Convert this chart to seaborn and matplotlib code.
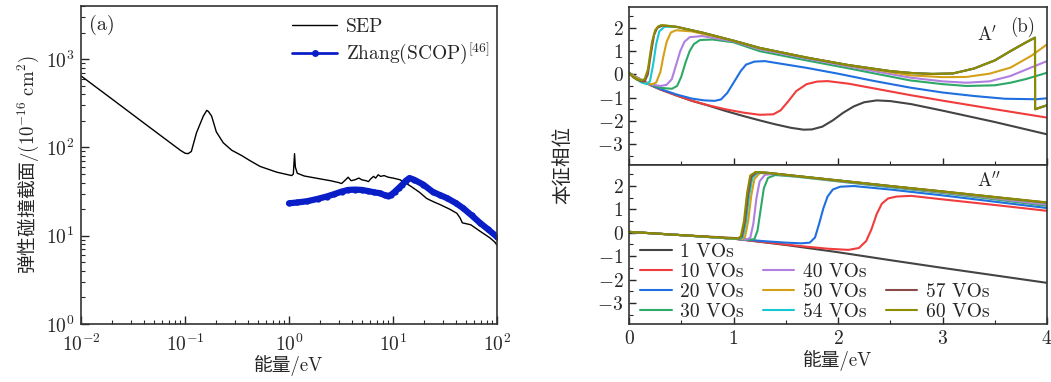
import matplotlib
matplotlib.use("Agg")
import matplotlib.pyplot as plt
import seaborn as sns
from matplotlib.lines import Line2D
from matplotlib.ticker import LogLocator, MultipleLocator, NullFormatter

# ---------------- panel (a): elastic cross section ----------------
sep_e = [0.01, 0.02, 0.04, 0.07, 0.09, 0.1, 0.107, 0.115, 0.129, 0.15, 0.162, 0.168,
         0.18, 0.2, 0.233, 0.281, 0.35, 0.42, 0.526, 0.76, 1.06, 1.1, 1.13, 1.15, 1.2,
         1.4, 2.0, 2.5, 3.0, 3.2, 3.5, 3.7, 3.95, 4.3, 4.7, 5.0, 5.5, 5.8, 6.1, 6.5,
         6.8, 7.2, 7.6, 8.2, 9.0, 10.0, 11.7, 13.0, 15.0, 18.0, 21.0, 22.7, 25.0, 28.4,
         35.0, 41.0, 44.0, 46.4, 56.0, 69.0, 85.0, 95.0, 100.0]
sep_s = [646, 351, 190, 116, 93, 86, 85, 90, 147, 227, 263, 255,
         227, 150, 113, 93, 81, 71, 61, 52.5, 48, 50, 85, 60, 51,
         47.5, 44, 42, 40, 39, 43, 46, 42, 43, 45, 43, 42, 41, 44, 47,
         45, 49, 47, 48, 46, 45, 43, 40, 36, 31, 26.5, 25.3, 24, 22.5,
         20, 18, 16, 14, 13.3, 11.2, 9.5, 8.5, 7.8]

zhang_e = [1.0, 1.2, 1.5, 1.9, 2.3, 2.7, 3.2, 3.7, 4.3, 5.0, 5.8, 6.6, 7.5, 8.3, 8.9,
           9.5, 10.4, 11.3, 12.3, 13.3, 14.4, 16.0, 19.5, 24.0, 28.0, 33.0, 40.0, 47.0,
           57.0, 69.0, 82.0, 100.0]
zhang_s = [23.3, 23.8, 24.6, 26.2, 27.8, 29.5, 31.6, 33.0, 33.3, 33.0, 32.0, 31.0, 30.3,
           28.8, 28.2, 28.8, 31.5, 34.5, 38.0, 42.0, 45.0, 43.0, 38.0, 31.5, 29.0, 26.7,
           23.5, 20.6, 17.0, 13.9, 11.8, 9.7]

# ---------------- panel (b): eigenphase, A' symmetry ----------------
a1_e_1 = [0, 0.05, 0.1, 0.2, 0.3, 0.45, 0.6, 0.75, 0.92, 1.1, 1.25, 1.4, 1.55, 1.67,
          1.75, 1.85, 1.95, 2.05, 2.15, 2.25, 2.37, 2.5, 2.7, 3.0, 3.5, 4.0]
a1_p_1 = [0.07, -0.08, -0.2, -0.45, -0.65, -0.9, -1.14, -1.33, -1.57, -1.8, -1.98, -2.15,
          -2.3, -2.38, -2.37, -2.25, -1.98, -1.65, -1.38, -1.2, -1.12, -1.15, -1.28, -1.56,
          -2.05, -2.58]
a1_e_10 = [0, 0.05, 0.1, 0.2, 0.3, 0.45, 0.6, 0.75, 0.92, 1.1, 1.25, 1.38, 1.45, 1.52,
           1.6, 1.7, 1.8, 1.9, 2.1, 2.4, 2.7, 3.0, 3.5, 4.0]
a1_p_10 = [0.07, -0.08, -0.2, -0.45, -0.65, -0.9, -1.13, -1.32, -1.5, -1.65, -1.74, -1.72,
           -1.55, -1.18, -0.72, -0.42, -0.31, -0.29, -0.4, -0.65, -0.9, -1.13, -1.5, -1.86]
a1_e_20 = [0, 0.05, 0.1, 0.2, 0.3, 0.45, 0.6, 0.72, 0.82, 0.88, 0.94, 1.01, 1.07, 1.12,
           1.2, 1.3, 1.7, 2.0, 2.34, 2.69, 3.0, 3.3, 3.6, 3.9, 4.0]
a1_p_20 = [0.07, -0.08, -0.2, -0.44, -0.63, -0.86, -1.04, -1.12, -1.14, -1.08, -0.8, -0.29,
           0.15, 0.42, 0.55, 0.57, 0.28, 0.03, -0.28, -0.57, -0.78, -0.93, -1.05, -1.07, -1.03]
a1_e_30 = [0, 0.05, 0.1, 0.2, 0.3, 0.41, 0.46, 0.5, 0.54, 0.58, 0.62, 0.68, 0.8, 1.0,
           1.25, 1.7, 2.1, 2.69, 3.0, 3.23, 3.5, 3.65, 3.8, 4.0]
a1_p_30 = [0.07, -0.08, -0.2, -0.43, -0.58, -0.62, -0.5, -0.1, 0.5, 1.0, 1.3, 1.48, 1.5,
           1.38, 1.0, 0.6, 0.26, -0.26, -0.42, -0.5, -0.47, -0.36, -0.2, 0.07]
a1_e_40 = [0, 0.05, 0.1, 0.2, 0.3, 0.36, 0.41, 0.45, 0.49, 0.53, 0.58, 0.7, 1.0, 1.25,
           1.7, 2.1, 2.69, 3.0, 3.23, 3.45, 3.65, 3.85, 4.0]
a1_p_40 = [0.07, -0.08, -0.2, -0.42, -0.5, -0.45, -0.2, 0.4, 1.0, 1.4, 1.6, 1.65, 1.42,
           1.08, 0.68, 0.34, -0.14, -0.3, -0.36, -0.3, -0.07, 0.3, 0.57]
a1_e_50 = [0, 0.05, 0.1, 0.17, 0.22, 0.26, 0.3, 0.33, 0.36, 0.4, 0.45, 0.6, 1.0, 1.25,
           1.7, 2.1, 2.69, 3.0, 3.23, 3.45, 3.65, 3.85, 4.0]
a1_p_50 = [0.07, -0.1, -0.22, -0.37, -0.43, -0.35, 0.1, 0.8, 1.4, 1.8, 1.9, 1.85, 1.45,
           1.12, 0.73, 0.38, -0.04, -0.12, -0.11, 0.03, 0.29, 0.8, 1.29]
a1_e_54 = [0, 0.04, 0.08, 0.12, 0.17, 0.2, 0.23, 0.26, 0.29, 0.34, 0.45, 0.7, 1.0, 1.25,
           1.7, 2.1, 2.5, 2.7, 2.9, 3.1, 3.3, 3.5, 3.65, 3.8, 3.885, 3.886, 4.0]
a1_p_54 = [0.07, -0.12, -0.24, -0.35, -0.42, -0.3, 0.4, 1.3, 1.85, 2.05, 2.05, 1.8, 1.45,
           1.14, 0.72, 0.4, 0.14, 0.06, 0.02, 0.04, 0.25, 0.6, 1.0, 1.38, 1.58, -1.5, -1.33]
a1_e_57 = [0, 0.04, 0.08, 0.12, 0.15, 0.18, 0.21, 0.24, 0.27, 0.32, 0.45, 0.7, 1.0, 1.25,
           1.7, 2.1, 2.5, 2.7, 2.9, 3.1, 3.3, 3.5, 3.65, 3.8, 3.885, 3.886, 4.0]
a1_p_57 = [0.07, -0.12, -0.23, -0.3, -0.3, 0.0, 0.9, 1.7, 2.0, 2.1, 2.05, 1.8, 1.45,
           1.14, 0.72, 0.4, 0.14, 0.06, 0.02, 0.04, 0.25, 0.6, 1.0, 1.38, 1.58, -1.5, -1.33]
a1_e_60 = [0, 0.04, 0.08, 0.12, 0.15, 0.18, 0.2, 0.22, 0.25, 0.28, 0.31, 0.36, 0.45,
           0.7, 1.0, 1.25, 1.7, 2.1, 2.5, 2.7, 2.9, 3.1, 3.3, 3.5, 3.65, 3.8, 3.885,
           3.886, 4.0]
a1_p_60 = [0.07, -0.12, -0.22, -0.26, -0.2, 0.2, 0.8, 1.4, 1.9, 2.07, 2.12, 2.1, 2.05,
           1.8, 1.45, 1.14, 0.72, 0.4, 0.14, 0.06, 0.02, 0.04, 0.25, 0.6, 1.0, 1.38, 1.58,
           -1.5, -1.33]

# ---------------- panel (b): eigenphase, A'' symmetry ----------------
a2_e_1 = [0, 0.5, 1.0, 1.5, 2.0, 2.5, 3.0, 3.5, 4.0]
a2_p_1 = [0.04, -0.1, -0.25, -0.52, -0.83, -1.17, -1.5, -1.82, -2.14]
a2_e_10 = [0, 0.5, 1.0, 1.3, 1.6, 1.9, 2.1, 2.2, 2.27, 2.32, 2.37, 2.42, 2.48, 2.56, 2.7,
           3.0, 3.5, 4.0]
a2_p_10 = [0.04, -0.1, -0.25, -0.4, -0.55, -0.68, -0.73, -0.65, -0.35, 0.15, 0.8, 1.25,
           1.47, 1.55, 1.58, 1.43, 1.19, 0.94]
a2_e_20 = [0, 0.5, 1.0, 1.3, 1.5, 1.65, 1.73, 1.78, 1.82, 1.86, 1.9, 1.95, 2.02, 2.15,
           2.5, 3.0, 3.5, 4.0]
a2_p_20 = [0.04, -0.1, -0.25, -0.36, -0.42, -0.45, -0.42, -0.2, 0.4, 1.05, 1.55, 1.85,
           1.97, 2.0, 1.85, 1.6, 1.33, 1.06]
a2_e_30 = [0, 0.5, 1.0, 1.15, 1.2, 1.23, 1.26, 1.29, 1.33, 1.4, 1.6, 2.0, 2.5, 3.0, 3.5, 4.0]
a2_p_30 = [0.04, -0.1, -0.25, -0.3, -0.27, 0.1, 1.0, 1.9, 2.35, 2.47, 2.4, 2.2, 1.95,
           1.7, 1.43, 1.15]
a2_e_40 = [0, 0.5, 1.0, 1.12, 1.16, 1.19, 1.22, 1.25, 1.3, 1.4, 1.6, 2.0, 2.5, 3.0, 3.5, 4.0]
a2_p_40 = [0.04, -0.1, -0.25, -0.29, -0.22, 0.4, 1.5, 2.2, 2.48, 2.52, 2.42, 2.22, 1.98,
           1.73, 1.47, 1.2]
a2_e_50 = [0, 0.5, 1.0, 1.08, 1.11, 1.14, 1.17, 1.2, 1.25, 1.35, 1.6, 2.0, 2.5, 3.0, 3.5, 4.0]
a2_p_50 = [0.04, -0.1, -0.25, -0.27, -0.18, 0.5, 1.6, 2.3, 2.55, 2.55, 2.43, 2.24, 2.0,
           1.75, 1.5, 1.27]
a2_e_54 = [0, 0.5, 1.0, 1.06, 1.09, 1.12, 1.15, 1.18, 1.23, 1.33, 1.6, 2.0, 2.5, 3.0, 3.5, 4.0]
a2_p_54 = [0.04, -0.1, -0.25, -0.27, -0.18, 0.5, 1.6, 2.35, 2.57, 2.56, 2.43, 2.24, 2.0,
           1.76, 1.52, 1.28]
a2_e_57 = [0, 0.5, 1.0, 1.05, 1.08, 1.11, 1.14, 1.17, 1.22, 1.32, 1.6, 2.0, 2.5, 3.0, 3.5, 4.0]
a2_p_57 = [0.04, -0.1, -0.22, -0.25, -0.16, 0.5, 1.65, 2.4, 2.59, 2.57, 2.43, 2.24, 2.0,
           1.77, 1.53, 1.29]
a2_e_60 = [0, 0.5, 0.9, 1.04, 1.07, 1.1, 1.13, 1.16, 1.21, 1.3, 1.6, 2.0, 2.5, 3.0, 3.5, 4.0]
a2_p_60 = [0.04, -0.1, -0.21, -0.25, -0.15, 0.5, 1.7, 2.45, 2.6, 2.58, 2.43, 2.24, 2.0,
           1.77, 1.53, 1.3]

vo_labels = ["1 VOs", "10 VOs", "20 VOs", "30 VOs", "40 VOs", "50 VOs", "54 VOs",
             "57 VOs", "60 VOs"]
vo_colors = ["#444444", "#f03c3c", "#1f6fe0", "#2ea866", "#b07fe0", "#d4a017",
             "#18c8d0", "#8b4a4a", "#8c8c00"]
a1_curves = [(a1_e_1, a1_p_1), (a1_e_10, a1_p_10), (a1_e_20, a1_p_20), (a1_e_30, a1_p_30),
             (a1_e_40, a1_p_40), (a1_e_50, a1_p_50), (a1_e_54, a1_p_54),
             (a1_e_57, a1_p_57), (a1_e_60, a1_p_60)]
a2_curves = [(a2_e_1, a2_p_1), (a2_e_10, a2_p_10), (a2_e_20, a2_p_20), (a2_e_30, a2_p_30),
             (a2_e_40, a2_p_40), (a2_e_50, a2_p_50), (a2_e_54, a2_p_54),
             (a2_e_57, a2_p_57), (a2_e_60, a2_p_60)]

sns.set_style("ticks")
plt.rcParams["font.family"] = ["cmr10", "Noto Sans CJK SC", "DejaVu Serif"]
plt.rcParams["mathtext.fontset"] = "cm"
plt.rcParams["axes.formatter.use_mathtext"] = True
plt.rcParams["axes.unicode_minus"] = True
plt.rcParams["axes.linewidth"] = 1.2
plt.rcParams["axes.edgecolor"] = "#333333"

fig = plt.figure(figsize=(10.51, 3.82), dpi=100)
ax_a = fig.add_axes([0.0771, 0.1518, 0.3958, 0.8325])
ax_top = fig.add_axes([0.5985, 0.5681, 0.3977, 0.4136])
ax_bot = fig.add_axes([0.5985, 0.1518, 0.3977, 0.4163], sharex=ax_top)

# panel (a)
sns.lineplot(x=sep_e, y=sep_s, ax=ax_a, color="black", lw=1.0, sort=False,
             estimator=None, label="SEP")
sns.lineplot(x=zhang_e, y=zhang_s, ax=ax_a, color="#0a1ec8", lw=4.5, marker="o",
             markersize=4.5, markeredgewidth=0, sort=False, estimator=None,
             label="Zhang(SCOP)$^{[46]}$")
ax_a.set_xscale("log")
ax_a.set_yscale("log")
ax_a.set_xlim(0.01, 100)
ax_a.set_ylim(1, 4000)
ax_a.xaxis.set_major_locator(LogLocator(base=10, numticks=10))
ax_a.xaxis.set_minor_locator(LogLocator(base=10, subs=range(2, 10), numticks=20))
ax_a.yaxis.set_major_locator(LogLocator(base=10, numticks=10))
ax_a.yaxis.set_minor_locator(LogLocator(base=10, subs=range(2, 10), numticks=20))
ax_a.xaxis.set_minor_formatter(NullFormatter())
ax_a.yaxis.set_minor_formatter(NullFormatter())
ax_a.tick_params(which="major", direction="in", length=6, width=1.0, labelsize=14, pad=5)
ax_a.tick_params(axis="x", which="major", pad=7)
ax_a.tick_params(which="minor", direction="in", length=3, width=0.8)
ax_a.set_xlabel("能量/eV", fontsize=13.5, labelpad=0)
ax_a.set_ylabel("弹性碰撞截面$\\mathrm{/(10^{-16}\\ cm^2)}$", fontsize=13.5,
                family="Noto Sans CJK SC", labelpad=3)
ax_a.text(0.02, 0.94, "(a)", transform=ax_a.transAxes, fontsize=14.5, va="center")
leg_a = ax_a.legend(loc="upper left", bbox_to_anchor=(0.48, 1.0), frameon=False,
                    fontsize=14, handlelength=2.3, handletextpad=0.45, labelspacing=0.25,
                    borderaxespad=0.2)
leg_a.get_lines()[1].set_linewidth(2.0)
leg_a.get_lines()[1].set_markersize(5)

# panel (b)
for ax, curves in ((ax_top, a1_curves), (ax_bot, a2_curves)):
    for (e, p), lab, col in zip(curves, vo_labels, vo_colors):
        sns.lineplot(x=e, y=p, ax=ax, color=col, lw=1.5, sort=False, estimator=None,
                     label=lab, legend=False)
    ax.set_ylim(-3.9, 2.9)
    ax.yaxis.set_major_locator(MultipleLocator(1))
    ax.yaxis.set_minor_locator(MultipleLocator(0.5))
    ax.tick_params(which="major", direction="in", length=5, width=1.0, labelsize=14, pad=4)
    ax.tick_params(which="minor", direction="in", length=3, width=0.8)
    ax.set_ylabel("")
    ax.set_xlabel("")

ax_top.set_xlim(0, 4)
ax_top.xaxis.set_major_locator(MultipleLocator(1))
ax_top.xaxis.set_minor_locator(MultipleLocator(0.5))
ax_top.tick_params(labelbottom=False)
ax_bot.set_xlabel("能量/eV", fontsize=13.5, labelpad=2)
fig.text(0.536, 0.568, "本征相位", rotation=90, fontsize=14, ha="center", va="center")

ax_top.text(0.832, 0.823, "A$'$", transform=ax_top.transAxes, fontsize=13.5, va="center")
ax_top.text(0.912, 0.875, "(b)", transform=ax_top.transAxes, fontsize=13.5, va="center")
ax_bot.text(0.832, 0.897, "A$''$", transform=ax_bot.transAxes, fontsize=13.5, va="center")

blank = Line2D([], [], color="none")
h = [Line2D([], [], color=c, lw=1.5) for c in vo_colors]
handles = [h[0], h[1], h[2], h[3], blank, h[4], h[5], h[6], blank, blank, h[7], h[8]]
labels = [vo_labels[0], vo_labels[1], vo_labels[2], vo_labels[3], "",
          vo_labels[4], vo_labels[5], vo_labels[6], "", "", vo_labels[7], vo_labels[8]]
ax_bot.legend(handles, labels, ncol=3, loc="lower left", bbox_to_anchor=(0.004, -0.04),
              frameon=False, fontsize=14, handlelength=1.6, handletextpad=0.45,
              labelspacing=0.1, columnspacing=1.0, borderaxespad=0.1)

fig.savefig("out.png", dpi=100)
